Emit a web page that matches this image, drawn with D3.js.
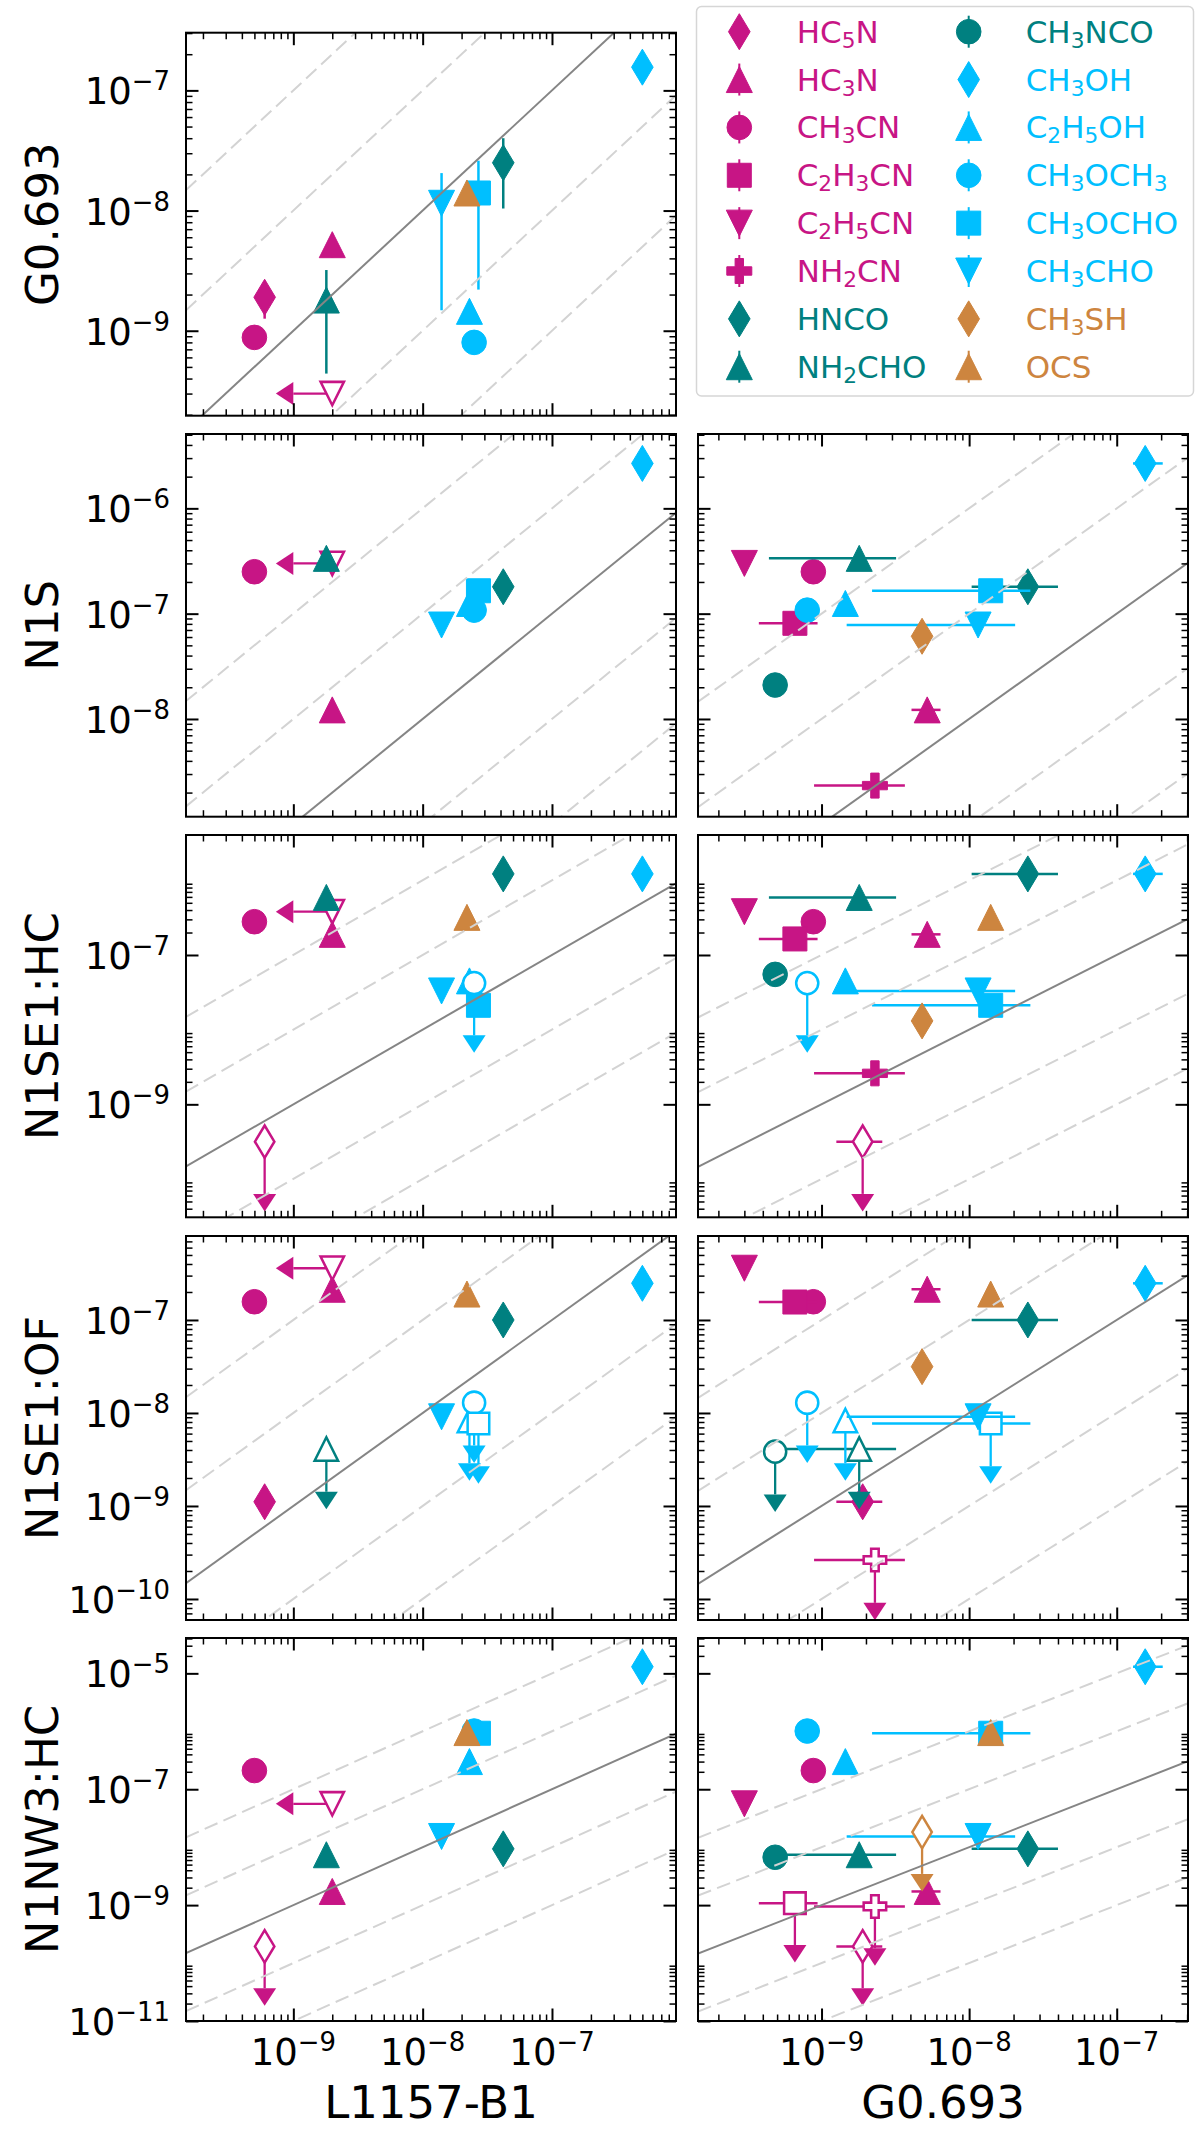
<!DOCTYPE html>
<html>
<head>
<meta charset="utf-8">
<script src="https://cdn.jsdelivr.net/npm/d3@7"></script>
<style>
  body { margin: 0; background: #fff; }
  svg { display: block; }
  text { font-family: "DejaVu Sans", sans-serif; }
</style>
</head>
<body>
<svg id="chart" width="1200" height="2129"></svg>
<script>
// molecules, in legend order
var molecules = ["HC_5N", "HC_3N", "CH_3CN", "C_2H_3CN", "C_2H_5CN", "NH_2CN", "HNCO", "NH_2CHO",
                 "CH_3NCO", "CH_3OH", "C_2H_5OH", "CH_3OCH_3", "CH_3OCHO", "CH_3CHO", "CH_3SH", "OCS"];
var colors = ["#C71585", "#C71585", "#C71585", "#C71585", "#C71585", "#C71585", "#008080", "#008080",
              "#008080", "#00BFFF", "#00BFFF", "#00BFFF", "#00BFFF", "#00BFFF", "#CD853F", "#CD853F"];
var shapes = ["diamond", "triUp", "circle", "square", "triDown", "plus", "diamond", "triUp",
              "circle", "diamond", "triUp", "circle", "square", "triDown", "diamond", "triUp"];

// abundances (null = not observed), *Lim = upper limit
var L1157 =    [6.0e-10, 2.0e-9, 5.0e-10, null, 2.0e-9, null, 4.2e-8, 1.8e-9, null, 5.0e-7, 2.3e-8, 2.5e-8, 2.7e-8, 1.4e-8, null, 2.2e-8];
var L1157Lim = [0, 0, 0, 0, 1, 0, 0, 0, 0, 0, 0, 0, 0, 0, 0, 0];

var G0693 =   [1.9e-9, 5.2e-9, 8.8e-10, 6.6e-10, 3.0e-10, 2.3e-9, 2.5e-8, 1.8e-9, 4.85e-10, 1.56e-7, 1.45e-9, 8.0e-10, 1.4e-8, 1.15e-8, 4.8e-9, 1.4e-8];
var G0693Lo = [1.26e-9, 4.07e-9, null, 3.76e-10, null, 8.9e-10, 1.04e-8, 4.4e-10, null, 1.29e-7, null, null, 2.2e-9, 1.48e-9, null, null];
var G0693Hi = [2.58e-9, 6.4e-9, null, 9.4e-10, null, 3.67e-9, 4.0e-8, 3.2e-9, null, 2.05e-7, null, null, 2.6e-8, 2.05e-8, null, null];

var N1S =     [null, 1.22e-8, 2.5e-7, 8.1e-8, 3.0e-7, 2.33e-9, 1.8e-7, 3.35e-7, 2.1e-8, 2.67e-6, 1.25e-7, 1.08e-7, 1.65e-7, 7.8e-8, 6.1e-8, null];

var N1SE1HC =    [3.16e-10, 1.89e-7, 2.79e-7, 1.64e-7, 3.8e-7, 2.6e-9, 1.22e-6, 5.9e-7, 5.5e-8, 1.22e-6, 4.5e-8, 4.2e-8, 2.12e-8, 3.3e-8, 1.31e-8, 3.19e-7];
var N1SE1HCLim = [1, 0, 0, 0, 0, 0, 0, 0, 0, 0, 0, 1, 0, 0, 0, 0];

var N1SE1OF =    [1.11e-9, 2.14e-7, 1.57e-7, 1.56e-7, 3.6e-7, 2.62e-10, 1.0e-7, 4.1e-9, 3.84e-9, 2.48e-7, 8.3e-9, 1.29e-8, 7.7e-9, 9.1e-9, 3.15e-8, 1.9e-7];
var N1SE1OFLim = [0, 0, 0, 0, 0, 1, 0, 1, 1, 0, 1, 1, 1, 0, 0, 0];

var N1NW3HC =    [1.94e-10, 1.72e-9, 2.1e-7, 1.08e-9, 5.6e-8, 9.5e-10, 9.35e-9, 7.4e-9, 6.7e-9, 1.3e-5, 3.0e-7, 1.01e-6, 9.25e-7, 1.53e-8, 1.82e-8, 9.5e-7];
var N1NW3HCLim = [1, 0, 0, 1, 0, 1, 0, 0, 0, 0, 0, 0, 0, 0, 1, 0];

// guide lines y = 10^k * x
var guideOffsets = [-2, -1, 0, 1, 2];

// layout
var columns = [
    { label: "L1157-B1", left: 186, right: 676, dom: [-9.83, -6.041],
      values: L1157, lim: L1157Lim, lo: null, hi: null, limDrop: 0.5 },
    { label: "G0.693", left: 698, right: 1188, dom: [-9.837, -6.517],
      values: G0693, lim: null, lo: G0693Lo, hi: G0693Hi, limDrop: 0.5 }
];
var rows = [
    { label: "G0.693", top: 32.7, bottom: 415.7, dom: [-9.707, -6.52], stride: 1,
      values: G0693, lim: null, lo: G0693Lo, hi: G0693Hi, limDrop: 0.2, cols: [0] },
    { label: "N1S", top: 434, bottom: 816.7, dom: [-8.928, -5.294], stride: 1,
      values: N1S, lim: null, lo: null, hi: null, limDrop: 0.2, cols: [0, 1] },
    { label: "N1SE1:HC", top: 835, bottom: 1217.3, dom: [-10.513, -5.393], stride: 2,
      values: N1SE1HC, lim: N1SE1HCLim, lo: null, hi: null, limDrop: 0.2, cols: [0, 1] },
    { label: "N1SE1:OF", top: 1236, bottom: 1620, dom: [-10.226, -6.097], stride: 1,
      values: N1SE1OF, lim: N1SE1OFLim, lo: null, hi: null, limDrop: 0.347, cols: [0, 1] },
    { label: "N1NW3:HC", top: 1638, bottom: 2021, dom: [-11.0, -4.39], stride: 2,
      values: N1NW3HC, lim: N1NW3HCLim, lo: null, hi: null, limDrop: 0.19, cols: [0, 1] }
];

var tickFont = 37, labelFont = 45, legendFont = 31;

var svg = d3.select("#chart");

function markerPath(shape) {
    switch (shape) {
        case "circle": return circlePath(12.3);
        case "square": return "M-12,-12H12V12H-12Z";
        case "triUp": return "M0,-13L13,13L-13,13Z";
        case "triDown": return "M0,13L13,-13L-13,-13Z";
        case "diamond": return "M0,-18L10.8,0L0,18L-10.8,0Z";
        case "plus":
            var a = 4.2, e = 12.5;
            return "M" + (-a) + "," + (-e) + "H" + a + "V" + (-a) + "H" + e + "V" + a + "H" + a + "V" + e +
                   "H" + (-a) + "V" + a + "H" + (-e) + "V" + (-a) + "H" + (-a) + "Z";
    }
}
function circlePath(r) {
    var p = d3.path();
    p.arc(0, 0, r, 0, 2 * Math.PI);
    p.closePath();
    return p.toString();
}

function drawMarker(g, shape, color, px, py, open) {
    var d = markerPath(shape);
    if (open) {
        // shrink a bit so the thick outline keeps the same outer size
        g.append("path").attr("d", d)
            .attr("transform", "translate(" + px + "," + py + ") scale(0.9)")
            .attr("fill", "#fff").attr("stroke", color).attr("stroke-width", 2.8)
            .attr("stroke-linejoin", "miter");
    } else {
        g.append("path").attr("d", d)
            .attr("transform", "translate(" + px + "," + py + ")")
            .attr("fill", color).attr("stroke", color).attr("stroke-width", 1);
    }
}

function logTicks(dom, stride) {
    var major = [], minor = [], eps = 0.004;
    for (var d = Math.floor(dom[0]) - stride; d <= Math.ceil(dom[1]) + stride; d += stride) {
        if (d >= dom[0] - eps && d <= dom[1] + eps) major.push(Math.pow(10, d));
        for (var k = 2; k <= 9; k++) {
            var v = d + Math.log10(k);
            if (v >= dom[0] && v <= dom[1]) minor.push(Math.pow(10, v));
        }
    }
    return { major: major, minor: minor };
}

function powLabel(t, value, size) {
    var e = Math.round(Math.log10(value));
    t.append("tspan").text("10");
    t.append("tspan").attr("font-size", size * 0.7).attr("dy", -size * 0.38)
        .text((e < 0 ? "\u2212" : "") + Math.abs(e));
}

function chemLabel(t, s, size) {
    var parts = s.split(/(_\d)/).filter(function (p) { return p.length; });
    var down = false;
    parts.forEach(function (p) {
        if (p[0] === "_") {
            t.append("tspan").attr("font-size", size * 0.7).attr("dy", 5).text(p.slice(1));
            down = true;
        } else {
            var ts = t.append("tspan").text(p);
            if (down) { ts.attr("dy", -5); down = false; }
        }
    });
}

function styleTicks(g, width) {
    g.select(".domain").remove();
    g.selectAll(".tick line").attr("stroke", "#000").attr("stroke-width", width);
    g.selectAll(".tick text").remove();
}

function drawAxes(x, y, c, r, showX, showY) {
    var xt = logTicks(c.dom, 1), yt = logTicks(r.dom, r.stride);
    var specs = [
        { ax: d3.axisBottom(x), tr: "translate(0," + r.bottom + ")", t: xt },
        { ax: d3.axisTop(x), tr: "translate(0," + r.top + ")", t: xt },
        { ax: d3.axisLeft(y), tr: "translate(" + c.left + ",0)", t: yt },
        { ax: d3.axisRight(y), tr: "translate(" + c.right + ",0)", t: yt }
    ];
    specs.forEach(function (s) {
        svg.append("g").attr("transform", s.tr)
            .call(s.ax.tickValues(s.t.minor).tickSize(-6.5).tickSizeOuter(0).tickFormat(""))
            .call(styleTicks, 1.5);
        svg.append("g").attr("transform", s.tr)
            .call(s.ax.tickValues(s.t.major).tickSize(-12.5).tickSizeOuter(0).tickFormat(""))
            .call(styleTicks, 2);
    });
    if (showY) {
        yt.major.forEach(function (v) {
            var t = svg.append("text").attr("x", c.left - 16).attr("y", y(v) + 14)
                .attr("text-anchor", "end").attr("font-size", tickFont);
            powLabel(t, v, tickFont);
        });
    }
    if (showX) {
        xt.major.forEach(function (v) {
            var t = svg.append("text").attr("x", x(v)).attr("y", r.bottom + 44)
                .attr("text-anchor", "middle").attr("font-size", tickFont);
            powLabel(t, v, tickFont);
        });
    }
}

function drawPanel(ri, ci) {
    var r = rows[ri], c = columns[ci];
    var x = d3.scaleLog().domain(c.dom.map(function (v) { return Math.pow(10, v); })).range([c.left, c.right]);
    var y = d3.scaleLog().domain(r.dom.map(function (v) { return Math.pow(10, v); })).range([r.bottom, r.top]);
    var g = svg.append("g");

    molecules.forEach(function (m, i) {
        var xv = c.values[i], yv = r.values[i];
        if (xv == null || yv == null) return;
        var px = x(xv), py = y(yv), col = colors[i];
        var xl = c.lim && c.lim[i], yl = r.lim && r.lim[i];
        var mg = g.append("g");
        if (c.lo && c.lo[i] != null) {
            mg.append("line").attr("x1", x(c.lo[i])).attr("x2", x(c.hi[i]))
                .attr("y1", py).attr("y2", py).attr("stroke", col).attr("stroke-width", 2.5);
        }
        if (r.lo && r.lo[i] != null) {
            mg.append("line").attr("x1", px).attr("x2", px)
                .attr("y1", y(r.lo[i])).attr("y2", y(r.hi[i])).attr("stroke", col).attr("stroke-width", 2.5);
        }
        if (xl) {
            var xe = x(xv * c.limDrop);
            mg.append("line").attr("x1", px).attr("x2", xe).attr("y1", py).attr("y2", py)
                .attr("stroke", col).attr("stroke-width", 2.3);
            mg.append("path").attr("d", "M0,-11.5L0,11.5L-17.5,0Z")
                .attr("transform", "translate(" + xe + "," + py + ")").attr("fill", col);
        }
        if (yl) {
            var ye = y(yv * r.limDrop);
            mg.append("line").attr("x1", px).attr("x2", px).attr("y1", py).attr("y2", ye)
                .attr("stroke", col).attr("stroke-width", 2.3);
            mg.append("path").attr("d", "M-11.5,0L11.5,0L0,17.5Z")
                .attr("transform", "translate(" + px + "," + ye + ")").attr("fill", col);
        }
        drawMarker(mg, shapes[i], col, px, py, xl || yl);
    });

    // guide lines, on top of the points as in the original
    var clipId = "clip" + ri + "_" + ci;
    svg.append("clipPath").attr("id", clipId).append("rect")
        .attr("x", c.left).attr("y", r.top).attr("width", c.right - c.left).attr("height", r.bottom - r.top);
    var lg = svg.append("g").attr("clip-path", "url(#" + clipId + ")");
    var xd = x.domain();
    guideOffsets.forEach(function (k) {
        var f = Math.pow(10, k);
        lg.append("line")
            .attr("x1", x(xd[0])).attr("y1", y(xd[0] * f))
            .attr("x2", x(xd[1])).attr("y2", y(xd[1] * f))
            .attr("stroke", k === 0 ? "#858585" : "#d3d3d3")
            .attr("stroke-width", 2)
            .attr("stroke-dasharray", k === 0 ? null : "14,6.5");
    });

    drawAxes(x, y, c, r, ri === rows.length - 1, ci === 0);

    svg.append("rect").attr("x", c.left).attr("y", r.top)
        .attr("width", c.right - c.left).attr("height", r.bottom - r.top)
        .attr("fill", "none").attr("stroke", "#000").attr("stroke-width", 2);
}

rows.forEach(function (r, ri) {
    r.cols.forEach(function (ci) { drawPanel(ri, ci); });
    svg.append("text")
        .attr("transform", "translate(58," + ((r.top + r.bottom) / 2) + ") rotate(-90)")
        .attr("text-anchor", "middle").attr("font-size", labelFont).text(r.label);
});

columns.forEach(function (c) {
    svg.append("text").attr("x", (c.left + c.right) / 2).attr("y", 2118)
        .attr("text-anchor", "middle").attr("font-size", labelFont).text(c.label);
});

// legend
var legend = svg.append("g");
legend.append("rect").attr("x", 696.5).attr("y", 6.5).attr("width", 497).attr("height", 389.5)
    .attr("rx", 5).attr("fill", "#fff").attr("stroke", "#d6d6d6").attr("stroke-width", 1.5);
var legendCols = [{ mx: 739.3, tx: 796.7 }, { mx: 968.7, tx: 1025.7 }];
molecules.forEach(function (m, i) {
    var lc = legendCols[Math.floor(i / 8)], cy = 31.7 + (i % 8) * 47.86;
    legend.append("line").attr("x1", lc.mx).attr("x2", lc.mx).attr("y1", cy - 16).attr("y2", cy + 16)
        .attr("stroke", colors[i]).attr("stroke-width", 2);
    drawMarker(legend, shapes[i], colors[i], lc.mx, cy, false);
    var t = legend.append("text").attr("x", lc.tx).attr("y", cy + 11)
        .attr("font-size", legendFont).attr("fill", colors[i]);
    chemLabel(t, m, legendFont);
});
</script>
</body>
</html>
